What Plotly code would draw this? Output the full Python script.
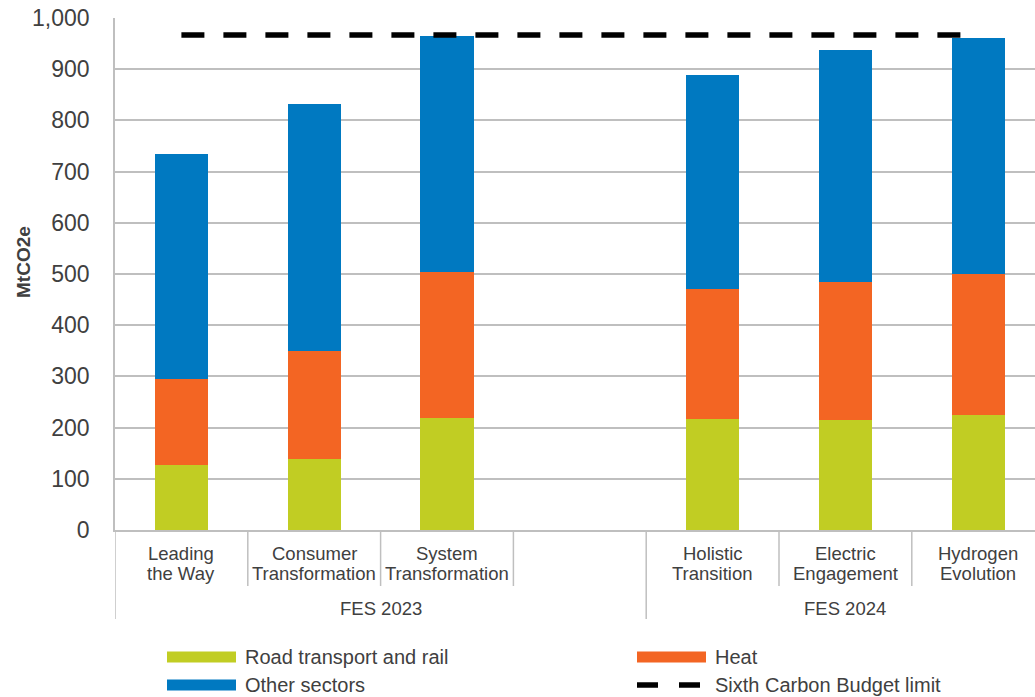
import plotly.graph_objects as go

# ---- data ----
scenarios = ["Leading<br>the Way", "Consumer<br>Transformation", "System<br>Transformation",
             "", "Holistic<br>Transition", "Electric<br>Engagement", "Hydrogen<br>Evolution"]
groups = ["FES 2023", "FES 2024"]
bar_slots = [0, 1, 2, 4, 5, 6]
road = [127, 139, 219, 217, 215, 225]
heat = [167, 211, 284, 253, 269, 275]
other = [440, 483, 462, 419, 453, 461]
budget_slots = [0, 1, 2, 3, 4, 5, 6]
budget = [967, 967, 967, 967, 967, 967, 967]
yticks = [0, 100, 200, 300, 400, 500, 600, 700, 800, 900, 1000]

GREEN = "#C1CD23"
ORANGE = "#F36523"
BLUE = "#0079C1"
GRID = "#BFBFBF"
TXT = "#404040"
FONT = "Liberation Sans, Arial, sans-serif"

# layout geometry (pixels)
W, H = 1035, 697
L, T, B = 115, 18, 167
PW = W - L
PH = H - T - B
X0 = -0.5
SLOT = 132.8
XMAX = X0 + PW / SLOT


def px(xpix):
    return (xpix - L) / PW


def py(ypix):
    return (H - B - ypix) / PH


fig = go.Figure()
fig.add_trace(go.Bar(x=bar_slots, y=road, name="Road transport and rail",
                     marker=dict(color=GREEN, line=dict(width=0)), width=0.4))
fig.add_trace(go.Bar(x=bar_slots, y=heat, name="Heat",
                     marker=dict(color=ORANGE, line=dict(width=0)), width=0.4))
fig.add_trace(go.Bar(x=bar_slots, y=other, name="Other sectors",
                     marker=dict(color=BLUE, line=dict(width=0)), width=0.4))
fig.add_trace(go.Scatter(x=budget_slots, y=budget, mode="lines", name="Sixth Carbon Budget limit",
                         line=dict(color="black", width=5.5, dash="23px,19px")))

shapes = []
annotations = []

# category separators below the axis
for i in range(len(scenarios) + 1):
    xb = X0 + i
    long_line = i in (0, 4)
    y_end = py(619) if long_line else py(586)
    shapes.append(dict(type="line", xref="x", yref="paper", x0=xb, x1=xb,
                       y0=0, y1=y_end, line=dict(color=GRID, width=1.5)))

# category labels
for i, lab in enumerate(scenarios):
    if not lab:
        continue
    lines = lab.split("<br>")
    for j, ln in enumerate(lines):
        annotations.append(dict(x=i, y=py(553 + 20.5 * j), xref="x", yref="paper",
                                text=ln, showarrow=False, xanchor="center", yanchor="middle",
                                font=dict(size=18.5, color=TXT, family=FONT)))

# group labels
group_centers = [1.5, 5.0]
for g, c in zip(groups, group_centers):
    annotations.append(dict(x=c, y=py(608), xref="x", yref="paper", text=g,
                            showarrow=False, xanchor="center", yanchor="middle",
                            font=dict(size=18.5, color=TXT, family=FONT)))

# y-axis title
annotations.append(dict(x=px(23), y=py(262), xref="paper", yref="paper", text="<b>MtCO2e</b>",
                        textangle=-90, showarrow=False, xanchor="center", yanchor="middle",
                        font=dict(size=19, color=TXT, family=FONT)))

# custom legend
legend_items = [
    ("Road transport and rail", GREEN, "bar", 167, 657),
    ("Heat", ORANGE, "bar", 637, 657),
    ("Other sectors", BLUE, "bar", 167, 685),
    ("Sixth Carbon Budget limit", "black", "dash", 637, 685),
]
for name, col, kind, xs, yc in legend_items:
    if kind == "bar":
        shapes.append(dict(type="rect", xref="paper", yref="paper",
                           x0=px(xs), x1=px(xs + 69), y0=py(yc - 5.5), y1=py(yc + 5.5),
                           fillcolor=col, line=dict(width=0)))
    else:
        for a, b in ((xs, xs + 21), (xs + 42, xs + 63)):
            shapes.append(dict(type="line", xref="paper", yref="paper",
                               x0=px(a), x1=px(b), y0=py(yc), y1=py(yc),
                               line=dict(color=col, width=5.5)))
    annotations.append(dict(x=px(xs + 76), y=py(yc), xref="paper", yref="paper", text=name,
                            showarrow=False, xanchor="left", yanchor="middle",
                            font=dict(size=20, color=TXT, family=FONT)))

fig.update_layout(
    width=W, height=H,
    margin=dict(l=L, r=0, t=T, b=B),
    barmode="stack",
    paper_bgcolor="white", plot_bgcolor="white",
    showlegend=False,
    font=dict(family=FONT, color=TXT),
    shapes=shapes,
    annotations=annotations,
    xaxis=dict(range=[X0, XMAX], showticklabels=False, ticks="", showgrid=False,
               zeroline=False, showline=True, linecolor=GRID, linewidth=1.5),
    yaxis=dict(range=[0, 1000], tickvals=yticks, tickformat=",", showgrid=True,
               gridcolor=GRID, gridwidth=1.5, zeroline=False, showline=True,
               linecolor=GRID, linewidth=1.5, ticks="", ticklabelstandoff=19,
               tickfont=dict(size=23, color=TXT, family=FONT)),
)

fig.write_html("out.html")
